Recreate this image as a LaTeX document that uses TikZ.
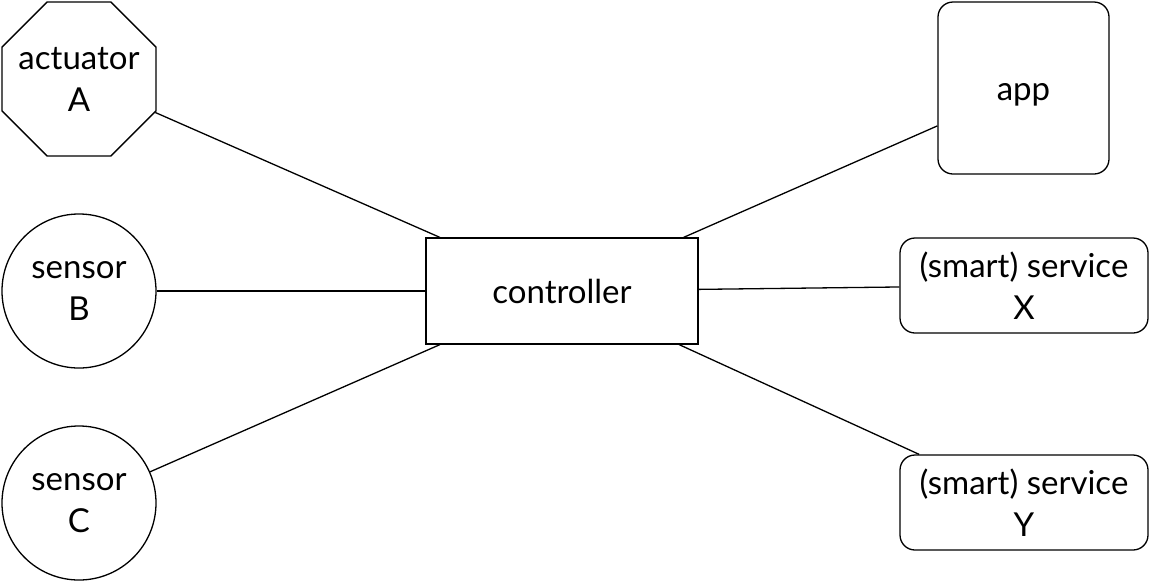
\documentclass[tikz,border=0pt]{standalone}
\usepackage{fontspec}
\setmainfont{Lato}
\usetikzlibrary{shapes.geometric}

\begin{document}
\begin{tikzpicture}[x=1pt, y=-1pt,
  every node/.style={draw, line width=1.3pt, inner sep=0pt, align=center,
    font=\fontsize{33}{42}\selectfont},
  sensor/.style={circle, minimum size=154pt},
  client/.style={rounded corners=15pt, minimum width=248pt, minimum height=95pt}]
\useasboundingbox (0,0) rectangle (1150,582);
\node[regular polygon, regular polygon sides=8, minimum size=166.7pt] (actA) at (79,79) {\makebox[0pt]{actuator}\\A};
\node[sensor] (senB) at (79,291) {sensor\\B};
\node[sensor] (senC) at (79,503) {sensor\\C};
\node[minimum width=272pt, minimum height=106pt] (ctrl) at (562,291) {controller};
\node[rounded corners=15pt, minimum width=171pt, minimum height=172pt] (app) at (1023.5,88) {\raisebox{-7pt}[\height][\depth]{app}};
\node[client] (srvX) at (1024,285.5) {(smart) service\\X};
\node[client] (srvY) at (1024,502.5) {(smart) service\\Y};
\draw[line width=1.3pt] (actA) -- (ctrl);
\draw[line width=1.3pt] (senB) -- (ctrl);
\draw[line width=1.3pt] (senC) -- (ctrl);
\draw[line width=1.3pt] (ctrl) -- (app);
\draw[line width=1.3pt] (ctrl) -- (srvX);
\draw[line width=1.3pt] (ctrl) -- (srvY);
\end{tikzpicture}
\end{document}
